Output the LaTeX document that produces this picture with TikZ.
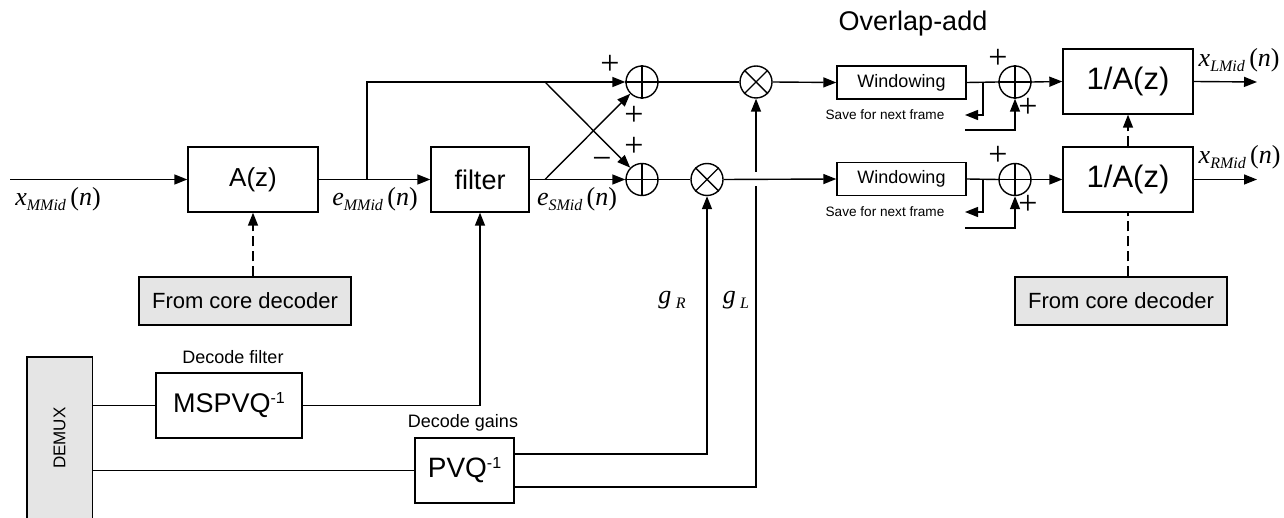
\documentclass[tikz,border=0pt]{standalone}
\usepackage{fontspec}
\setmainfont{Liberation Sans}
\newfontfamily\tms{Liberation Serif}
\usetikzlibrary{arrows.meta}
\newcommand\fsz[1]{\fontsize{#1}{#1}\selectfont}
\newcommand\siglab[2]{{\tms\fsz{26}\textit{#1}\raisebox{-5pt}{\fsz{16}\textit{#2}}\,(\textit{n})}}
\newcommand\gainlab[1]{{\tms\fsz{26}\textit{g}\,\raisebox{-5pt}{\fsz{16}\textit{#1}}}}
\begin{document}
\begin{tikzpicture}[x=1pt,y=-1pt,line width=1.4pt,
  arr/.style={-{Triangle[length=13pt,width=10pt]}},
  blk/.style={draw,inner sep=0pt},
  graybox/.style={draw,fill=gray!20,inner sep=0pt,minimum width=212pt,minimum height=48pt,font=\fsz{22}},
  sumnode/.style={circle,draw,minimum size=32pt,inner sep=0pt},
  sgn/.style={font=\tms\fsz{34},inner sep=0pt},
  lab/.style={inner sep=0pt},
  dsh/.style={dash pattern=on 10pt off 5pt}]
\useasboundingbox (0,0) rectangle (1284,518);
% blocks
\node[blk,minimum width=130pt,minimum height=65pt,font=\fsz{26}] (az) at (253,179.5) {A(z)};
\node[blk,minimum width=98pt,minimum height=65pt,font=\fsz{27}] (filter) at (480,179.5) {filter};
\node[blk,minimum width=146pt,minimum height=65pt,font=\fsz{27}] (mspvq) at (229,405.5) {MSPVQ\raisebox{9pt}{\fsz{16}-1}};
\node[blk,minimum width=99pt,minimum height=65pt,font=\fsz{28}] (pvq) at (464.5,470.5) {PVQ\raisebox{9pt}{\fsz{16}-1}};
\node[fill=gray!20,inner sep=0pt,minimum width=64pt,minimum height=161pt,anchor=north west,font=\fsz{17}] (demux) at (27,357) {\rotatebox{90}{DEMUX}};
\draw (demux.south west) -- (demux.north west) -- (demux.north east) -- (demux.south east);
\node[graybox] (cd1) at (245,301) {From core decoder};
\node[graybox] (cd2) at (1121,301) {From core decoder};
\node[blk,minimum width=129pt,minimum height=33pt,font=\fsz{18}] (win1) at (901.5,82.5) {Windowing};
\node[blk,minimum width=129pt,minimum height=33pt,font=\fsz{18}] (win2) at (901.5,179) {Windowing};
\node[blk,minimum width=130pt,minimum height=65pt,font=\fsz{31}] (ia1) at (1128,81.5) {1/A(z)};
\node[blk,minimum width=130pt,minimum height=65pt,font=\fsz{31}] (ia2) at (1128,179.5) {1/A(z)};
% sums and multipliers
\node[sumnode] (s1) at (642,82) {};
\node[sumnode] (s2) at (642,179.5) {};
\node[sumnode] (m1) at (756,82) {};
\node[sumnode] (m2) at (707,179.5) {};
\node[sumnode] (s3) at (1015,82) {};
\node[sumnode] (s4) at (1015,179.5) {};
\foreach \s in {s1,s2,s3,s4}{\draw (\s.north) -- (\s.south) (\s.west) -- (\s.east);}
\foreach \m in {m1,m2}{\draw (\m.north west) -- (\m.south east) (\m.north east) -- (\m.south west);}
% texts
\node[font=\fsz{27}] (ola) at (913,24) {Overlap-add};
\node[font=\fsz{18}] (df) at (233,357) {Decode filter};
\node[font=\fsz{18}] (dg) at (463,423) {Decode gains};
\node[font=\fsz{13.6}] (sv1t) at (885,115) {Save for next frame};
\node[font=\fsz{13.6}] (sv2t) at (885,212) {Save for next frame};
\node[lab] (lx) at (58,199) {\siglab{x}{MMid}};
\node[lab] (le) at (375,199) {\siglab{e}{MMid}};
\node[lab] (les) at (577,199) {\siglab{e}{SMid}};
\node[lab] (lgr) at (672,300) {\gainlab{R}};
\node[lab] (lgl) at (736,300) {\gainlab{L}};
\node[lab,anchor=west] (lxl) at (1198,60) {\siglab{x}{LMid}};
\node[lab,anchor=west] (lxr) at (1198,157) {\siglab{x}{RMid}};
% signs
\node[sgn] (p1) at (610,65) {+};
\node[sgn] (p2) at (634,116) {+};
\node[sgn] (p3) at (634,147) {+};
\node[sgn] (n1) at (602,163) {−};
\node[sgn] (p4) at (998,59) {+};
\node[sgn] (p5) at (1028,108) {+};
\node[sgn] (p6) at (998,156) {+};
\node[sgn] (p7) at (1028,205) {+};
% coordinates
\coordinate (in) at (10,179.5);
\coordinate (b1) at (367,179.5);
\coordinate (c1) at (545,82);
\coordinate (c2) at (545,179.5);
\coordinate (gla) at (756,186);
\coordinate (glb) at (756,172);
\coordinate (sa1) at (983,82);
\coordinate (sb1) at (965,115);
\coordinate (sa2) at (983,179.5);
\coordinate (sb2) at (965,212);
\coordinate (oa1) at (965,130);
\coordinate (oa2) at (965,228);
\coordinate (o1) at (1257,82);
\coordinate (o2) at (1257,179.5);
% connectors
\draw[arr] (in) -- (az.west);
\draw[arr] (az.east) -- (filter.west);
\draw[arr] (b1) |- (s1.west);
\draw[arr] (filter.east) -- (s2.west);
\draw[arr] (c1) -- (s2.north west);
\draw[arr] (c2) -- (s1.south west);
\draw (s1.east) -- (m1.west);
\draw (s2.east) -- (m2.west);
\draw[arr] (m1.east) -- (win1.west);
\draw[arr] (m2.east) -- (win2.west);
\draw (win1.east) -- (s3.west);
\draw (win2.east) -- (s4.west);
\draw[arr] (s3.east) -- (ia1.west);
\draw[arr] (s4.east) -- (ia2.west);
\draw[arr] (sa1) |- (sb1);
\draw[arr] (sa2) |- (sb2);
\draw[arr] (oa1) -| (s3.south);
\draw[arr] (oa2) -| (s4.south);
\draw[arr] (ia1.east) -- (o1);
\draw[arr] (ia2.east) -- (o2);
\draw[arr,dsh] (ia2.north) -- (ia1.south);
\draw[dsh] (cd2.north -| ia2.south) -- (ia2.south);
\draw[arr,dsh] (cd1.north -| az.south) -- (az.south);
\draw (demux.east |- mspvq.west) -- (mspvq.west);
\draw (demux.east |- pvq.west) -- (pvq.west);
\draw[arr] (mspvq.east) -| (filter.south);
\draw[arr] (pvq.east |- 0,454) -| (m2.south);
\draw (pvq.east |- 0,487) -| (gla);
\draw[arr] (glb) -- (m1.south);
\end{tikzpicture}
\end{document}
